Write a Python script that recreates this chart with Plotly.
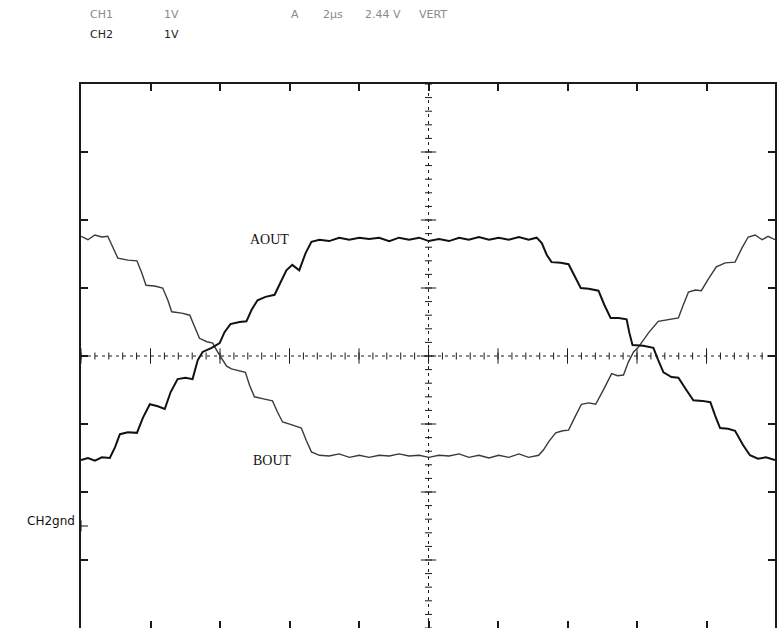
import plotly.graph_objects as go

# time in microseconds (2 us/div), voltage in V relative to centre graticule (1 V/div)
aout_t = [0, 0.20, 0.40, 0.60, 0.83, 0.98, 1.12, 1.35, 1.61, 1.78, 1.98, 2.21, 2.41, 2.58, 2.78, 3.01, 3.21,
          3.36, 3.50, 3.76, 3.99, 4.13, 4.30, 4.56, 4.76, 4.91, 5.08, 5.31, 5.57, 5.74, 5.91, 6.08, 6.28,
          6.46, 6.63, 6.86, 7.14, 7.43, 7.72, 8.01, 8.29, 8.58, 8.87, 9.15, 9.44, 9.73, 10.01, 10.30,
          10.59, 10.88, 11.16, 11.45, 11.74, 12.02, 12.31, 12.60, 12.88, 13.11, 13.26, 13.40, 13.54,
          13.80, 14.03, 14.20, 14.38, 14.61, 14.89, 15.06, 15.24, 15.47, 15.70, 15.78, 15.87, 16.18,
          16.47, 16.61, 16.76, 16.99, 17.19, 17.42, 17.62, 17.88, 18.11, 18.25, 18.39, 18.62, 18.82,
          19.05, 19.25, 19.48, 19.71, 19.97]
aout_v = [-1.53, -1.50, -1.54, -1.49, -1.50, -1.34, -1.15, -1.12, -1.13, -0.91, -0.71, -0.74, -0.78, -0.53,
          -0.34, -0.32, -0.34, -0.06, 0.06, 0.12, 0.19, 0.35, 0.47, 0.50, 0.51, 0.68, 0.82, 0.87, 0.90,
          1.09, 1.26, 1.34, 1.26, 1.51, 1.68, 1.71, 1.69, 1.74, 1.71, 1.74, 1.72, 1.74, 1.69, 1.74, 1.71,
          1.74, 1.69, 1.72, 1.69, 1.74, 1.71, 1.75, 1.71, 1.74, 1.71, 1.75, 1.71, 1.74, 1.66, 1.49, 1.38,
          1.37, 1.35, 1.18, 1.00, 0.99, 0.96, 0.75, 0.56, 0.56, 0.54, 0.34, 0.16, 0.15, 0.12, -0.06,
          -0.24, -0.31, -0.32, -0.50, -0.65, -0.66, -0.68, -0.88, -1.06, -1.07, -1.10, -1.31, -1.46,
          -1.51, -1.49, -1.53]

bout_t = [0, 0.20, 0.40, 0.60, 0.77, 0.92, 1.06, 1.35, 1.61, 1.75, 1.87, 2.12, 2.35, 2.50, 2.61, 2.90, 3.13,
          3.27, 3.41, 3.62, 3.79, 3.93, 4.05, 4.19, 4.33, 4.56, 4.73, 4.85, 4.99, 5.25, 5.51, 5.65, 5.80,
          6.05, 6.34, 6.48, 6.63, 6.86, 7.14, 7.43, 7.72, 8.01, 8.29, 8.58, 8.87, 9.15, 9.44, 9.73, 10.01,
          10.30, 10.59, 10.88, 11.16, 11.45, 11.74, 12.02, 12.31, 12.60, 12.88, 13.17, 13.31, 13.46,
          13.66, 13.86, 14.03, 14.23, 14.40, 14.61, 14.81, 15.04, 15.27, 15.44, 15.61, 15.75, 15.90,
          16.04, 16.33, 16.61, 16.90, 17.19, 17.33, 17.48, 17.68, 17.85, 18.05, 18.28, 18.54, 18.82,
          19.02, 19.20, 19.40, 19.60, 19.77, 19.97]
bout_v = [1.76, 1.71, 1.78, 1.75, 1.76, 1.60, 1.44, 1.41, 1.40, 1.22, 1.04, 1.03, 1.00, 0.82, 0.65, 0.63,
          0.60, 0.43, 0.26, 0.21, 0.19, 0.06, -0.03, -0.15, -0.19, -0.22, -0.24, -0.43, -0.60, -0.63,
          -0.66, -0.82, -0.97, -1.01, -1.06, -1.24, -1.41, -1.46, -1.47, -1.44, -1.49, -1.46, -1.49,
          -1.46, -1.47, -1.44, -1.47, -1.46, -1.49, -1.46, -1.47, -1.44, -1.49, -1.46, -1.50, -1.46,
          -1.49, -1.44, -1.49, -1.46, -1.38, -1.26, -1.13, -1.10, -1.09, -0.88, -0.71, -0.69, -0.71,
          -0.49, -0.26, -0.29, -0.28, -0.09, 0.06, 0.13, 0.34, 0.51, 0.54, 0.56, 0.75, 0.94, 0.97, 0.96,
          1.13, 1.31, 1.37, 1.38, 1.59, 1.75, 1.78, 1.71, 1.76, 1.71]

x_major = [0, 2, 4, 6, 8, 10, 12, 14, 16, 18]
y_major = [-3, -2, -1, 0, 1, 2, 3]
ch2_gnd = -2.5

header_row1 = ["CH1", "1V", "A", "2\u00b5s", "2.44 V", "VERT"]
header_row2 = ["CH2", "1V"]

W, H = 777, 628
L, T = 81, 84
XR = [0, 19.97]
YR = [-4, 4]
INK = "#1a1a1a"

fig = go.Figure()

# centre graticule dashed lines
fig.add_shape(type="line", x0=10, x1=10, y0=YR[0], y1=YR[1], line=dict(color=INK, width=1, dash="3px,4px"))
fig.add_shape(type="line", x0=XR[0], x1=XR[1], y0=0, y1=0, line=dict(color=INK, width=1, dash="3px,4px"))


def tick_marks(x, y, symbol, size):
    fig.add_trace(go.Scatter(x=x, y=y, mode="markers",
                             marker=dict(symbol=symbol, size=size, color=INK, line=dict(width=1, color=INK)),
                             hoverinfo="skip", showlegend=False))


minor_x = [i * 0.4 for i in range(0, 50)]
minor_y = [-4 + i * 0.2 for i in range(0, 41)]
tick_marks(minor_x, [0] * len(minor_x), "line-ns-open", 5)
tick_marks([10] * len(minor_y), minor_y, "line-ew-open", 5)
tick_marks(x_major, [0] * len(x_major), "line-ns-open", 11)
tick_marks([10] * len(y_major), y_major, "line-ew-open", 11)

# waveforms
fig.add_trace(go.Scatter(x=bout_t, y=bout_v, mode="lines", line=dict(color="#3a3a3a", width=1.4),
                         name="BOUT", showlegend=False))
fig.add_trace(go.Scatter(x=aout_t, y=aout_v, mode="lines", line=dict(color="#111", width=2),
                         name="AOUT", showlegend=False))

# CH2 ground marker
fig.add_trace(go.Scatter(x=[0, 0], y=[ch2_gnd, ch2_gnd], mode="markers",
                         marker=dict(symbol=["line-ew-open", "line-ns-open"], size=[10, 8], color=INK,
                                     line=dict(width=1.5, color=INK)),
                         hoverinfo="skip", showlegend=False))

ann = []
ann.append(dict(x=5.42, y=1.71, text="AOUT", showarrow=False, xanchor="center", yanchor="middle",
                font=dict(family="Liberation Serif", size=14, color="#111")))
ann.append(dict(x=5.51, y=-1.54, text="BOUT", showarrow=False, xanchor="center", yanchor="middle",
                font=dict(family="Liberation Serif", size=14, color="#111")))
ann.append(dict(x=0, y=ch2_gnd, text="CH2gnd", showarrow=False, xanchor="right", yanchor="middle",
                xshift=-4, yshift=5, font=dict(family="DejaVu Sans", size=12, color="#111")))


def px2paper(px, py):
    return (px - L) / (W - L), (H - py) / (H - T)


row1_px = [88, 162, 290, 322, 364, 418]
for txt, px in zip(header_row1, row1_px):
    xp, yp = px2paper(px, 14)
    ann.append(dict(x=xp, y=yp, xref="paper", yref="paper", text=txt, showarrow=False,
                    xanchor="left", yanchor="middle",
                    font=dict(family="DejaVu Sans", size=11, color="#8a8a8a")))
row2_px = [88, 162]
for txt, px in zip(header_row2, row2_px):
    xp, yp = px2paper(px, 35)
    ann.append(dict(x=xp, y=yp, xref="paper", yref="paper", text=txt, showarrow=False,
                    xanchor="left", yanchor="middle",
                    font=dict(family="DejaVu Sans", size=11, color="#222")))

fig.update_layout(
    width=W, height=H,
    margin=dict(l=L, r=0, t=T, b=0),
    paper_bgcolor="white", plot_bgcolor="white",
    annotations=ann,
    xaxis=dict(range=XR, showgrid=False, zeroline=False, showline=True, linecolor=INK, linewidth=2,
               mirror="allticks", ticks="inside", ticklen=7, tickwidth=1.5, tickcolor=INK,
               tickvals=x_major, showticklabels=False),
    yaxis=dict(range=YR, showgrid=False, zeroline=False, showline=True, linecolor=INK, linewidth=2,
               mirror="allticks", ticks="inside", ticklen=7, tickwidth=1.5, tickcolor=INK,
               tickvals=y_major, showticklabels=False),
)

fig.write_html("out.html")
